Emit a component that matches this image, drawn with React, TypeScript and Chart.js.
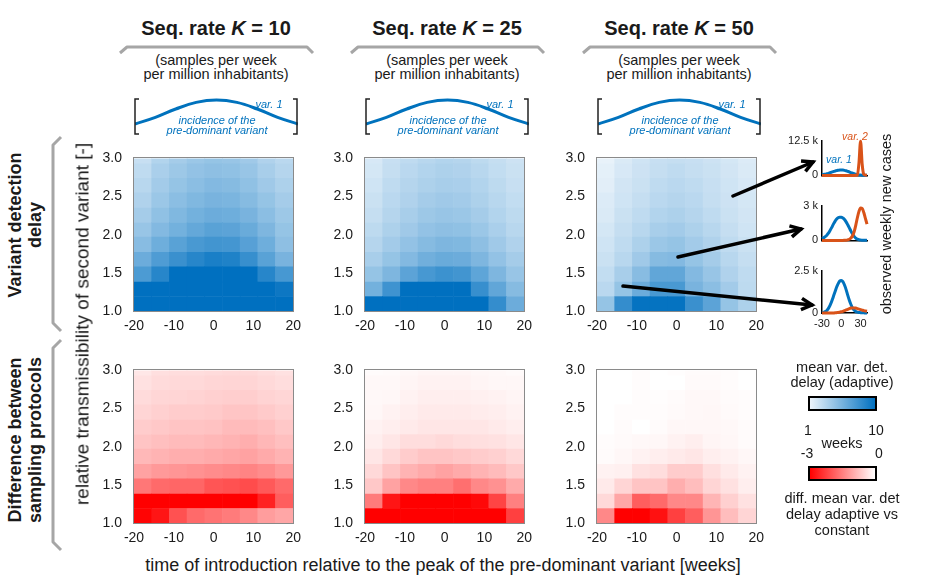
import React, { useEffect, useRef } from 'react';
import { Chart, registerables } from 'chart.js';

Chart.register(...registerables);

const FONT = "'Liberation Sans', Arial, Helvetica, sans-serif";
const INK = '#1a1a1a';
const BLUE = '#0072BD';
const ORANGE = '#D95319';

// ---------------- data ----------------
const seqRates = [10, 25, 50];
const introWeeks = [-17.78, -13.33, -8.89, -4.44, 0, 4.44, 8.89, 13.33, 17.78];
const transEdges = [1.0, 1.19, 1.38, 1.58, 1.77, 1.97, 2.16, 2.35, 2.55, 2.74, 2.93, 3.0];

// mean variant detection delay (weeks), rows bottom -> top
const delayK10 = [
  [10, 10, 10, 10, 10, 10, 10, 10, 10],
  [10, 10, 10, 10, 10, 10, 10, 10, 9.5],
  [7.1, 8.5, 10, 10, 10, 10, 10, 8.5, 7.3],
  [5.9, 7.0, 7.8, 8.5, 9.0, 8.8, 7.9, 6.6, 5.4],
  [4.8, 5.8, 6.6, 7.2, 7.5, 7.4, 6.7, 5.8, 4.6],
  [4.2, 5.0, 5.6, 6.2, 6.6, 6.5, 6.0, 5.2, 4.3],
  [3.7, 4.5, 5.1, 5.6, 5.9, 5.8, 5.4, 4.7, 4.0],
  [3.3, 4.1, 4.7, 5.1, 5.4, 5.3, 4.9, 4.3, 3.7],
  [3.0, 3.8, 4.3, 4.7, 5.0, 4.9, 4.5, 3.9, 3.4],
  [2.7, 3.5, 4.0, 4.4, 4.6, 4.5, 4.2, 3.6, 3.1],
  [2.4, 3.2, 3.7, 4.1, 4.3, 4.2, 3.9, 3.3, 2.9],
];
const delayK25 = [
  [10, 10, 10, 10, 10, 10, 10, 8.0, 5.9],
  [5.6, 7.6, 10, 10, 10, 10, 7.9, 6.3, 4.9],
  [4.3, 5.2, 6.5, 7.3, 7.7, 7.5, 6.4, 5.2, 4.2],
  [3.6, 4.3, 5.0, 5.7, 6.0, 5.9, 5.2, 4.4, 3.7],
  [3.1, 3.8, 4.4, 4.9, 5.2, 5.1, 4.6, 3.9, 3.3],
  [2.8, 3.4, 3.9, 4.4, 4.6, 4.5, 4.1, 3.5, 3.0],
  [2.5, 3.1, 3.6, 4.0, 4.2, 4.1, 3.7, 3.2, 2.8],
  [2.3, 2.9, 3.3, 3.7, 3.9, 3.8, 3.4, 3.0, 2.6],
  [2.1, 2.7, 3.1, 3.4, 3.6, 3.5, 3.2, 2.8, 2.4],
  [1.9, 2.5, 2.9, 3.2, 3.4, 3.3, 3.0, 2.6, 2.3],
  [1.8, 2.4, 2.7, 3.0, 3.2, 3.1, 2.8, 2.5, 2.2],
];
const delayK50 = [
  [4.3, 8.0, 9.8, 9.8, 9.8, 7.8, 6.5, 4.3, 3.4],
  [2.9, 4.3, 5.9, 7.2, 7.2, 5.4, 4.7, 3.8, 2.8],
  [2.6, 3.6, 4.8, 6.3, 6.3, 5.0, 4.2, 3.3, 2.7],
  [2.3, 3.0, 3.9, 4.9, 5.0, 4.3, 3.7, 3.0, 2.5],
  [2.1, 2.7, 3.4, 4.1, 4.3, 3.8, 3.3, 2.7, 2.3],
  [1.9, 2.5, 3.0, 3.6, 3.8, 3.4, 3.0, 2.5, 2.1],
  [1.7, 2.3, 2.7, 3.2, 3.4, 3.1, 2.7, 2.3, 2.0],
  [1.6, 2.1, 2.5, 2.9, 3.1, 2.9, 2.5, 2.2, 1.9],
  [1.4, 2.0, 2.3, 2.7, 2.9, 2.7, 2.4, 2.1, 1.8],
  [1.3, 1.8, 2.2, 2.5, 2.7, 2.5, 2.3, 2.0, 1.7],
  [1.15, 1.7, 2.1, 2.4, 2.5, 2.4, 2.2, 1.9, 1.6],
];

// difference adaptive vs constant (weeks), rows bottom -> top
const diffK10 = [
  [-2.95, -2.75, -2.05, -1.75, -1.65, -1.55, -1.4, -1.15, -1.05],
  [-3, -3, -3, -3, -3, -3, -3, -2.6, -1.9],
  [-1.6, -1.75, -1.8, -1.8, -2.0, -2.05, -2.1, -1.95, -1.75],
  [-1.1, -1.2, -1.25, -1.3, -1.35, -1.4, -1.45, -1.35, -1.2],
  [-0.83, -0.9, -0.95, -0.95, -1.0, -1.05, -1.1, -1.0, -0.9],
  [-0.7, -0.75, -0.8, -0.8, -0.85, -0.9, -0.95, -0.85, -0.75],
  [-0.6, -0.65, -0.7, -0.7, -0.72, -0.8, -0.8, -0.75, -0.65],
  [-0.5, -0.55, -0.6, -0.6, -0.62, -0.68, -0.68, -0.62, -0.55],
  [-0.42, -0.48, -0.5, -0.52, -0.55, -0.58, -0.58, -0.52, -0.48],
  [-0.35, -0.42, -0.45, -0.45, -0.48, -0.5, -0.5, -0.45, -0.4],
  [-0.28, -0.38, -0.4, -0.4, -0.42, -0.45, -0.45, -0.4, -0.35],
];
const diffK25 = [
  [-3, -3, -3, -3, -3, -3, -3, -3, -2.25],
  [-1.55, -2.75, -3, -3, -3, -3, -2.9, -2.2, -1.5],
  [-0.65, -1.1, -1.4, -1.5, -1.5, -1.7, -1.4, -1.3, -1.0],
  [-0.45, -0.7, -0.9, -1.0, -1.1, -1.0, -0.9, -0.8, -0.65],
  [-0.3, -0.45, -0.6, -0.7, -0.7, -0.65, -0.6, -0.55, -0.45],
  [-0.2, -0.3, -0.4, -0.4, -0.45, -0.4, -0.38, -0.35, -0.3],
  [-0.15, -0.2, -0.25, -0.3, -0.3, -0.3, -0.3, -0.25, -0.2],
  [-0.1, -0.15, -0.2, -0.25, -0.25, -0.25, -0.22, -0.2, -0.15],
  [-0.08, -0.1, -0.15, -0.2, -0.2, -0.2, -0.18, -0.15, -0.12],
  [-0.08, -0.08, -0.12, -0.15, -0.15, -0.15, -0.12, -0.1, -0.1],
  [-0.05, -0.06, -0.1, -0.12, -0.12, -0.12, -0.1, -0.08, -0.06],
];
const diffK50 = [
  [-1.4, -3, -3, -2.8, -2.25, -1.9, -1.25, -0.78, -0.5],
  [-0.45, -1.05, -1.9, -1.75, -1.4, -1.4, -0.87, -0.55, -0.35],
  [-0.25, -0.5, -0.7, -0.7, -0.95, -0.78, -0.5, -0.35, -0.2],
  [-0.15, -0.18, -0.35, -0.4, -0.6, -0.6, -0.38, -0.25, -0.15],
  [-0.05, -0.1, -0.15, -0.2, -0.25, -0.3, -0.2, -0.15, -0.1],
  [-0.04, -0.06, -0.08, -0.1, -0.15, -0.2, -0.12, -0.1, -0.05],
  [0, -0.05, 0, -0.05, -0.1, -0.1, -0.1, -0.08, -0.05],
  [0, -0.03, -0.03, -0.03, -0.06, -0.08, -0.1, -0.06, -0.03],
  [0, 0, -0.03, -0.02, -0.05, -0.08, -0.08, -0.05, -0.03],
  [0, 0, -0.04, 0, 0, -0.06, -0.06, -0.04, 0],
  [0, 0, -0.04, 0, -0.02, -0.05, -0.05, -0.04, 0],
];

// observed weekly new cases (thousands) in the three insets
const miniWeeks = [-30, -27.5, -25, -22.5, -20, -17.5, -15, -12.5, -10, -7.5, -5, -2.5, 0, 2.5, 5, 7.5, 10, 12.5, 15, 17.5, 20, 22.5, 25, 27.5, 30, 32.5, 35, 37.5, 40];
const mini1Var1 = [0.25, 0.35, 0.45, 0.6, 0.75, 0.95, 1.15, 1.35, 1.55, 1.7, 1.85, 1.9, 1.95, 1.9, 1.8, 1.65, 1.45, 1.25, 1.0, 0.8, 0.6, 0.4, 0.28, 0.18, 0.12, 0.08, 0.05, 0.03, 0.02];
const mini1Var2 = [0, 0, 0, 0, 0, 0, 0, 0, 0, 0, 0, 0, 0, 0, 0, 0, 0, 0, 0, 0, 0, 0.02, 0.2, 4.5, 12.3, 4.0, 0.4, 0.1, 0.05];
const mini2Var1 = [0.15, 0.22, 0.32, 0.45, 0.62, 0.85, 1.1, 1.38, 1.62, 1.82, 1.95, 2.0, 2.0, 1.93, 1.8, 1.6, 1.35, 1.08, 0.8, 0.55, 0.35, 0.2, 0.11, 0.06, 0.03, 0.02, 0.01, 0.01, 0];
const mini2Var2 = [0, 0, 0, 0, 0, 0, 0, 0, 0, 0, 0, 0, 0, 0, 0.01, 0.02, 0.05, 0.1, 0.2, 0.4, 0.75, 1.3, 1.95, 2.5, 2.8, 2.75, 2.4, 1.9, 1.4];
const mini3Var1 = [0.02, 0.04, 0.08, 0.15, 0.27, 0.45, 0.68, 0.95, 1.22, 1.5, 1.72, 1.88, 1.92, 1.85, 1.65, 1.38, 1.05, 0.75, 0.5, 0.3, 0.17, 0.09, 0.05, 0.03, 0.02, 0.01, 0.01, 0, 0];
const mini3Var2 = [0, 0, 0, 0, 0, 0, 0, 0, 0.01, 0.02, 0.03, 0.05, 0.07, 0.1, 0.14, 0.18, 0.22, 0.26, 0.29, 0.3, 0.3, 0.29, 0.26, 0.23, 0.2, 0.17, 0.14, 0.12, 0.1];
const miniVar1 = [mini1Var1, mini2Var1, mini3Var1];
const miniVar2 = [mini1Var2, mini2Var2, mini3Var2];
const miniMaxK = [12.5, 3, 2.5];
const miniMaxLabels = ['12.5 k', '3 k', '2.5 k'];
const miniXTicks = [-30, 0, 30];

// schematic incidence of the pre-dominant variant (header icon)
const iconWeeks = [-20, -15, -10, -5, 0, 5, 10, 15, 20];
const iconIncidence = [0.3, 0.52, 0.8, 1.02, 1.1, 1.02, 0.8, 0.52, 0.3];

// ---------------- layout / style ----------------
const PANEL_LEFTS = [134, 365, 597];
const ROW_TOPS = [148, 360];
const PW = 164;
const PH = 163;
const HM_PL = 44, HM_PT = 10, HM_PR = 10, HM_PB = 28;

const BLUE_LO = [236, 244, 251];
const BLUE_HI = [0, 112, 192];
function blueColor(v: number) {
  const t = Math.min(1, Math.max(0, (v - 1) / 9));
  const c = BLUE_LO.map((a, i) => Math.round(a + (BLUE_HI[i] - a) * t));
  return `rgb(${c[0]},${c[1]},${c[2]})`;
}
function redColor(v: number) {
  const t = Math.min(1, Math.max(0, -v / 3));
  const g = Math.round(255 * (1 - t));
  return `rgb(255,${g},${g})`;
}

const boxPlugin = {
  id: 'box',
  afterDatasetsDraw(chart: any) {
    const { ctx, chartArea: a } = chart;
    ctx.save();
    ctx.strokeStyle = '#8a8a8a';
    ctx.lineWidth = 1;
    ctx.strokeRect(Math.round(a.left) - 0.5, Math.round(a.top) - 0.5, Math.round(a.right - a.left) + 1, Math.round(a.bottom - a.top) + 1);
    ctx.restore();
  },
};

function Heatmap({ values, color, left, top }: any) {
  const ref = useRef<HTMLCanvasElement>(null);
  const W = HM_PL + PW + HM_PR;
  const H = HM_PT + PH + HM_PB;
  useEffect(() => {
    const datasets = transEdges.slice(0, -1).map((lo, r) => ({
      data: introWeeks.map((x) => ({ x, y: [lo, transEdges[r + 1]] })),
      backgroundColor: values[r].map(color),
      borderWidth: 0,
      grouped: false,
      barPercentage: 1,
      categoryPercentage: 1,
    }));
    const tickFont = { family: FONT, size: 14 };
    const chart = new Chart(ref.current as HTMLCanvasElement, {
      type: 'bar',
      data: { datasets } as any,
      options: {
        responsive: false,
        animation: false,
        events: [],
        layout: { padding: { left: 0, top: HM_PT, right: HM_PR, bottom: 0 } },
        plugins: { legend: { display: false }, tooltip: { enabled: false } },
        scales: {
          x: {
            type: 'linear', min: -20, max: 20, offset: false,
            grid: { display: false, drawTicks: false },
            border: { display: false },
            ticks: { stepSize: 10, padding: 7, color: INK, font: tickFont, maxRotation: 0 },
            afterFit: (s: any) => { s.height = HM_PB; },
          },
          y: {
            type: 'linear', min: 1, max: 3,
            grid: { display: false, drawTicks: false },
            border: { display: false },
            ticks: { stepSize: 0.5, padding: 12, color: INK, font: tickFont, callback: (v: any) => Number(v).toFixed(1) },
            afterFit: (s: any) => { s.width = HM_PL; },
          },
        },
      } as any,
      plugins: [boxPlugin],
    });
    return () => chart.destroy();
  }, []);
  return (
    <canvas ref={ref} width={W} height={H}
      style={{ position: 'absolute', left: left - HM_PL, top: top - HM_PT, width: W, height: H }} />
  );
}

const MINI_LEFT = 822, MINI_W = 45, MINI_H = 45;
const MINI_TOPS = [138, 203, 268];
const MN_PL = 36, MN_PT = 8, MN_PR = 6;

function Mini({ idx }: any) {
  const ref = useRef<HTMLCanvasElement>(null);
  const last = idx === 2;
  const PB = last ? 18 : 3;
  const W = MN_PL + MINI_W + MN_PR;
  const H = MN_PT + MINI_H + PB;
  useEffect(() => {
    const mk = (vals: number[], col: string) => ({
      data: miniWeeks.map((x, i) => ({ x, y: vals[i] })),
      borderColor: col,
      borderWidth: 3,
      pointRadius: 0,
      cubicInterpolationMode: 'monotone',
      fill: false,
      clip: false,
    });
    const f = { family: FONT, size: 11 };
    const chart = new Chart(ref.current as HTMLCanvasElement, {
      type: 'line',
      data: { datasets: [mk(miniVar2[idx], ORANGE), mk(miniVar1[idx], BLUE)] } as any,
      options: {
        responsive: false,
        animation: false,
        events: [],
        layout: { padding: { left: 0, top: MN_PT, right: MN_PR, bottom: 0 } },
        plugins: { legend: { display: false }, tooltip: { enabled: false } },
        scales: {
          x: {
            type: 'linear', min: -30, max: 40,
            grid: { display: false, drawTicks: false },
            border: { display: true, color: '#000', width: 1.5 },
            afterBuildTicks: (s: any) => { s.ticks = miniXTicks.map((v) => ({ value: v })); },
            ticks: { display: last, padding: 4, color: INK, font: f, maxRotation: 0, autoSkip: false },
            afterFit: (s: any) => { s.height = PB; },
          },
          y: {
            type: 'linear', min: 0, max: miniMaxK[idx],
            grid: { display: false, drawTicks: false },
            border: { display: true, color: '#000', width: 1.5 },
            afterBuildTicks: (s: any) => { s.ticks = [{ value: 0 }, { value: miniMaxK[idx] }]; },
            ticks: { padding: 4, color: INK, font: f, autoSkip: false, callback: (v: any) => (v === 0 ? '0' : miniMaxLabels[idx]) },
            afterFit: (s: any) => { s.width = MN_PL; },
          },
        },
      } as any,
    });
    return () => chart.destroy();
  }, []);
  return (
    <canvas ref={ref} width={W} height={H}
      style={{ position: 'absolute', left: MINI_LEFT - MN_PL, top: MINI_TOPS[idx] - MN_PT, width: W, height: H }} />
  );
}

function Icon({ left }: any) {
  const ref = useRef<HTMLCanvasElement>(null);
  const W = 163, H = 36;
  useEffect(() => {
    const chart = new Chart(ref.current as HTMLCanvasElement, {
      type: 'line',
      data: {
        datasets: [{
          data: iconWeeks.map((x, i) => ({ x, y: iconIncidence[i] })),
          borderColor: BLUE, borderWidth: 3, pointRadius: 0, tension: 0.4, clip: false,
        }],
      } as any,
      options: {
        responsive: false, animation: false, events: [],
        layout: { padding: 0 },
        plugins: { legend: { display: false }, tooltip: { enabled: false } },
        scales: {
          x: { type: 'linear', min: -20, max: 20, display: false },
          y: { type: 'linear', min: 0, max: 1.2, display: false },
        },
      } as any,
    });
    return () => chart.destroy();
  }, []);
  return <canvas ref={ref} width={W} height={H} style={{ position: 'absolute', left: left + 1, top: 97, width: W, height: H }} />;
}

function T({ x, y, size, children, bold, italic, color, rotate, lh }: any) {
  return (
    <div style={{
      position: 'absolute', left: x, top: y,
      transform: `translate(-50%,-50%)${rotate ? ` rotate(${rotate}deg)` : ''}`,
      fontSize: size, fontWeight: bold ? 700 : 400, fontStyle: italic ? 'italic' : 'normal',
      color: color || INK, whiteSpace: 'nowrap', lineHeight: lh ? `${lh}px` : 1, textAlign: 'center',
    }}>{children}</div>
  );
}

function arrowPath(x1: number, y1: number, x2: number, y2: number) {
  const a = Math.atan2(y2 - y1, x2 - x1);
  const L = 12, s = (28 * Math.PI) / 180;
  const p1 = [x2 - L * Math.cos(a - s), y2 - L * Math.sin(a - s)];
  const p2 = [x2 - L * Math.cos(a + s), y2 - L * Math.sin(a + s)];
  return { line: `M${x1},${y1} L${x2},${y2}`, head: `M${p1[0]},${p1[1]} L${x2},${y2} L${p2[0]},${p2[1]}` };
}

const ARROWS = [
  [733, 196, 813, 162],
  [678, 257, 801, 229],
  [623, 286, 812, 305],
];

export default function App() {
  const delays = [delayK10, delayK25, delayK50];
  const diffs = [diffK10, diffK25, diffK50];
  return (
    <div style={{ position: 'absolute', left: 0, top: 0, width: 927, height: 588, background: '#fff', overflow: 'hidden', fontFamily: FONT, color: INK }}>
      {PANEL_LEFTS.map((L, i) => (
        <React.Fragment key={i}>
          <Heatmap values={delays[i]} color={blueColor} left={L} top={ROW_TOPS[0]} />
          <Heatmap values={diffs[i]} color={redColor} left={L} top={ROW_TOPS[1]} />
          <Icon left={L} />
        </React.Fragment>
      ))}
      {[0, 1, 2].map((i) => <Mini key={i} idx={i} />)}

      <svg width={927} height={588} style={{ position: 'absolute', left: 0, top: 0, zIndex: 2, pointerEvents: 'none' }}>
        {PANEL_LEFTS.map((L, i) => {
          const c = L + PW / 2;
          const R = L + PW;
          return (
            <g key={i}>
              <polyline points={`${c - 96},53 ${c - 89},47 ${c + 91},47 ${c + 97},53`} fill="none" stroke="#a6a6a6" strokeWidth={3} strokeLinejoin="round" />
              <path d={`M${L + 5},99 H${L + 1} V134 H${L + 5}`} fill="none" stroke="#222" strokeWidth={1.5} />
              <path d={`M${R - 5},99 H${R - 1} V134 H${R - 5}`} fill="none" stroke="#222" strokeWidth={1.5} />
            </g>
          );
        })}
        <polyline points="61,137 53,145 53,323 61,331" fill="none" stroke="#a6a6a6" strokeWidth={3} strokeLinejoin="round" />
        <polyline points="61,340 53,348 53,542 61,550" fill="none" stroke="#a6a6a6" strokeWidth={3} strokeLinejoin="round" />
        {ARROWS.map((a, i) => {
          const p = arrowPath(a[0], a[1], a[2], a[3]);
          return (
            <g key={i}>
              <path d={p.line} stroke="#000" strokeWidth={3.5} strokeLinecap="round" />
              <path d={p.head} stroke="#000" strokeWidth={3.5} fill="none" strokeLinejoin="miter" />
            </g>
          );
        })}
      </svg>

      {PANEL_LEFTS.map((L, i) => {
        const c = L + PW / 2;
        return (
          <React.Fragment key={i}>
            <T x={c} y={28} size={20} bold>Seq. rate <i>K</i> = {seqRates[i]}</T>
            <T x={c} y={59.5} size={14.5}>(samples per week</T>
            <T x={c} y={74} size={14.5}>per million inhabitants)</T>
            <T x={c + 53} y={103.5} size={11} italic color={BLUE}>var. 1</T>
            <T x={c + 1} y={119.5} size={11} italic color={BLUE}>incidence of the</T>
            <T x={c + 1} y={129.5} size={11} italic color={BLUE}>pre-dominant variant</T>
          </React.Fragment>
        );
      })}

      <T x={25} y={225} size={18} bold rotate={-90} lh={20}>Variant detection<br />delay</T>
      <T x={25} y={440} size={18} bold rotate={-90} lh={20}>Difference between<br />sampling protocols</T>
      <T x={82} y={324} size={19} rotate={-90}>relative transmissibility of second variant [-]</T>
      <T x={443} y={565} size={18}>time of introduction relative to the peak of the pre-dominant variant [weeks]</T>

      <T x={855} y={136} size={10.5} italic color={ORANGE}>var. 2</T>
      <T x={839} y={159} size={10.5} italic color={BLUE}>var. 1</T>
      <T x={886} y={224} size={14.5} rotate={-90}>observed weekly new cases</T>

      <T x={842} y={367} size={14.5}>mean var. det.</T>
      <T x={842} y={382} size={14.5}>delay (adaptive)</T>
      <div style={{ position: 'absolute', left: 808, top: 396, width: 69, height: 15, boxSizing: 'border-box', border: '2px solid #000', background: 'linear-gradient(to right, rgb(236,244,251), rgb(0,112,192))' }} />
      <T x={808} y={430} size={14}>1</T>
      <T x={876} y={430} size={14}>10</T>
      <T x={842} y={443} size={14.5}>weeks</T>
      <T x={807} y={453} size={14}>-3</T>
      <T x={879} y={453} size={14}>0</T>
      <div style={{ position: 'absolute', left: 808, top: 466, width: 69, height: 15, boxSizing: 'border-box', border: '2px solid #000', background: 'linear-gradient(to right, rgb(255,0,0), rgb(255,255,255))' }} />
      <T x={842} y={498} size={14.5}>diff. mean var. det</T>
      <T x={842} y={514} size={14.5}>delay adaptive vs</T>
      <T x={842} y={530} size={14.5}>constant</T>
    </div>
  );
}
